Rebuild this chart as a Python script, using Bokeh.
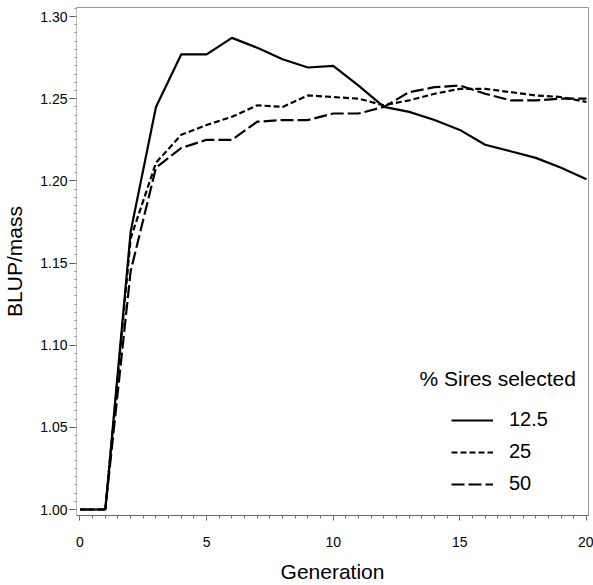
from bokeh.plotting import figure
from bokeh.models import (Range1d, SingleIntervalTicker, Legend, LegendItem, Label,
                          ColumnDataSource, NumeralTickFormatter)
from bokeh.embed import file_html
from bokeh.resources import INLINE

# ---- data ----
generation = list(range(21))
sires_12_5 = [1.000, 1.000, 1.169, 1.245, 1.277, 1.277, 1.287, 1.281, 1.274, 1.269, 1.270,
              1.258, 1.245, 1.242, 1.237, 1.231, 1.222, 1.218, 1.214, 1.208, 1.201]
sires_25 = [1.000, 1.000, 1.165, 1.211, 1.228, 1.234, 1.239, 1.246, 1.245, 1.252, 1.251,
            1.250, 1.246, 1.249, 1.253, 1.256, 1.256, 1.254, 1.252, 1.251, 1.248]
sires_50 = [1.000, 1.000, 1.145, 1.208, 1.220, 1.225, 1.225, 1.236, 1.237, 1.237, 1.241,
            1.241, 1.245, 1.254, 1.257, 1.258, 1.253, 1.249, 1.249, 1.250, 1.250]
series_labels = ["12.5", "25", "50"]
legend_title = "% Sires selected"
x_title = "Generation"
y_title = "BLUP/mass"

FONT = "Liberation Sans"

p = figure(width=593, height=585, output_backend="svg", toolbar_location=None,
           x_range=Range1d(-0.138, 20.08), y_range=Range1d(0.99635, 1.3055),
           min_border_left=75, min_border_right=5, min_border_top=7, min_border_bottom=70)
p.background_fill_color = "white"
p.border_fill_color = "white"
p.outline_line_color = "#9a9a9a"
p.outline_line_width = 1
p.grid.visible = False

# x axis
p.xaxis.ticker = SingleIntervalTicker(interval=5, num_minor_ticks=10)
p.xaxis.axis_label = x_title
p.xaxis.axis_label_text_font = FONT
p.xaxis.axis_label_text_font_size = "21px"
p.xaxis.axis_label_text_font_style = "normal"
p.xaxis.axis_label_text_color = "black"
p.xaxis.axis_label_standoff = 10
p.xaxis.major_label_text_font = FONT
p.xaxis.major_label_text_font_size = "14px"
p.xaxis.major_label_text_color = "black"
p.xaxis.major_label_standoff = 16
p.xaxis.major_tick_out = 5
p.xaxis.major_tick_in = 0
p.xaxis.minor_tick_out = 3
p.xaxis.minor_tick_in = 0
p.xaxis.axis_line_color = "#666666"
p.xaxis.major_tick_line_color = "#555555"
p.xaxis.minor_tick_line_color = "#777777"

# y axis
p.yaxis.ticker = SingleIntervalTicker(interval=0.05, num_minor_ticks=10)
p.yaxis.formatter = NumeralTickFormatter(format="0.00")
p.yaxis.axis_label = y_title
p.yaxis.axis_label_text_font = FONT
p.yaxis.axis_label_text_font_size = "21px"
p.yaxis.axis_label_text_font_style = "normal"
p.yaxis.axis_label_text_color = "black"
p.yaxis.axis_label_standoff = 11
p.yaxis.major_label_text_font = FONT
p.yaxis.major_label_text_font_size = "14px"
p.yaxis.major_label_text_color = "black"
p.yaxis.major_label_standoff = 2
p.yaxis.major_tick_out = 7
p.yaxis.major_tick_in = 0
p.yaxis.minor_tick_out = 2
p.yaxis.minor_tick_in = 0
p.yaxis.axis_line_color = "#bbbbbb"
p.yaxis.major_tick_line_color = "#555555"
p.yaxis.minor_tick_line_color = "#888888"

src = ColumnDataSource(dict(g=generation, a=sires_12_5, b=sires_25, c=sires_50))
r1 = p.line("g", "a", source=src, line_color="black", line_width=2.2)
r2 = p.line("g", "b", source=src, line_color="black", line_width=2.2, line_dash="6 3")
r3 = p.line("g", "c", source=src, line_color="black", line_width=2.2, line_dash="13 4")

legend = Legend(items=[LegendItem(label=series_labels[0], renderers=[r1]),
                       LegendItem(label=series_labels[1], renderers=[r2]),
                       LegendItem(label=series_labels[2], renderers=[r3])],
                location=(375, 20), margin=0, padding=0,
                border_line_color=None, background_fill_alpha=0,
                glyph_width=42, glyph_height=20, label_height=20,
                label_standoff=16, spacing=9,
                label_text_font=FONT, label_text_font_size="20px",
                label_text_color="black")
p.add_layout(legend, "center")

p.add_layout(Label(x=343, y=137, x_units="screen", y_units="screen", text=legend_title,
                   text_font=FONT, text_font_size="21px", text_baseline="middle",
                   text_align="left", text_color="black"))

open("out.html", "w").write(file_html(p, INLINE))
